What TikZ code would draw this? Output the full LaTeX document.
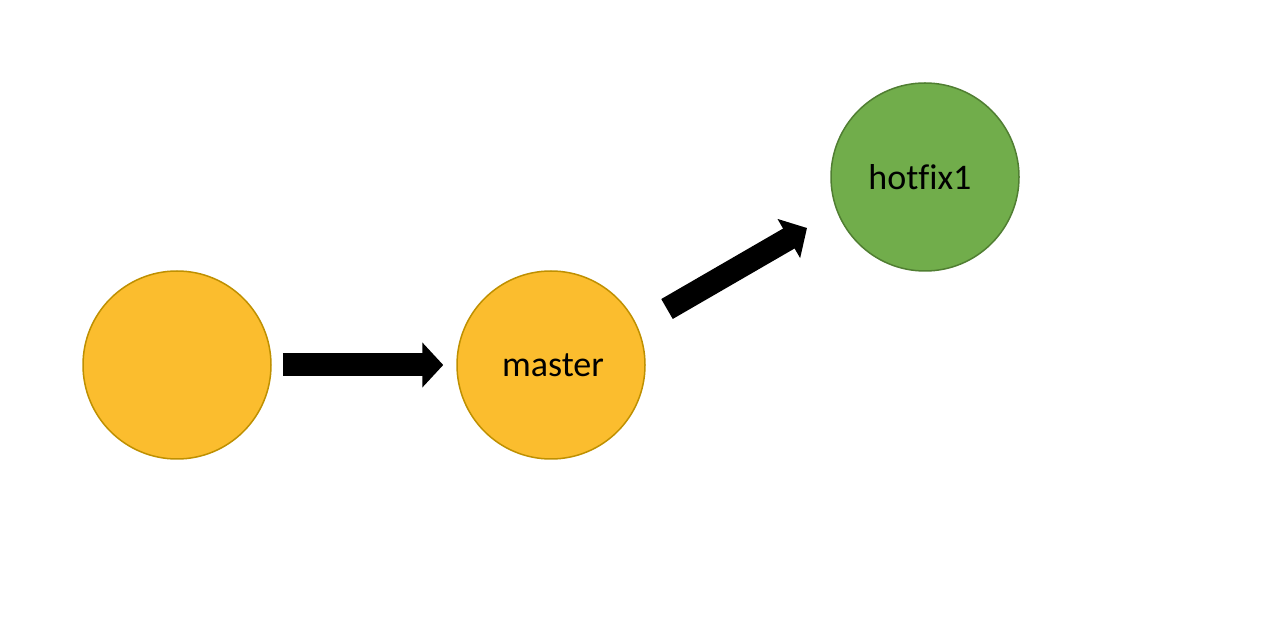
\documentclass[tikz,border=0pt]{standalone}
\usepackage{fontspec}
\setmainfont{Carlito}[Ligatures=CommonOff]
\usetikzlibrary{arrows.meta}
\definecolor{goldfill}{HTML}{FBBD2E}
\definecolor{goldline}{HTML}{BF9000}
\definecolor{greenfill}{HTML}{71AD4B}
\definecolor{greenline}{HTML}{507E32}
\tikzset{
  commit/.style={circle, minimum size=94pt, inner sep=0pt, line width=0.75pt,
    font=\fontsize{18pt}{22pt}\selectfont, text=black},
  goldc/.style={commit, fill=goldfill, draw=goldline},
  greenc/.style={commit, fill=greenfill, draw=greenline},
  bigarrow/.style={draw=black, line width=11.5pt,
    -{Triangle[length=10.5pt, width=22pt]}},
}
\begin{document}
\begin{tikzpicture}[x=0.5pt, y=-0.5pt]
\useasboundingbox[fill=white] (0,0) rectangle (1268,640);
\node[goldc] (c1) at (177,365) {};
\node[goldc] (m) at (551,365) {\hspace*{2pt}master};
\node[greenc] (h) at (925,177) {\hspace*{-5pt}hotfix1};
\draw[bigarrow, shorten <=5.5pt, shorten >=6.5pt] (c1) -- (m);
\coordinate (a2s) at (667,309);
\coordinate (a2e) at (807,228);
\draw[bigarrow] (a2s) -- (a2e);
\end{tikzpicture}
\end{document}
